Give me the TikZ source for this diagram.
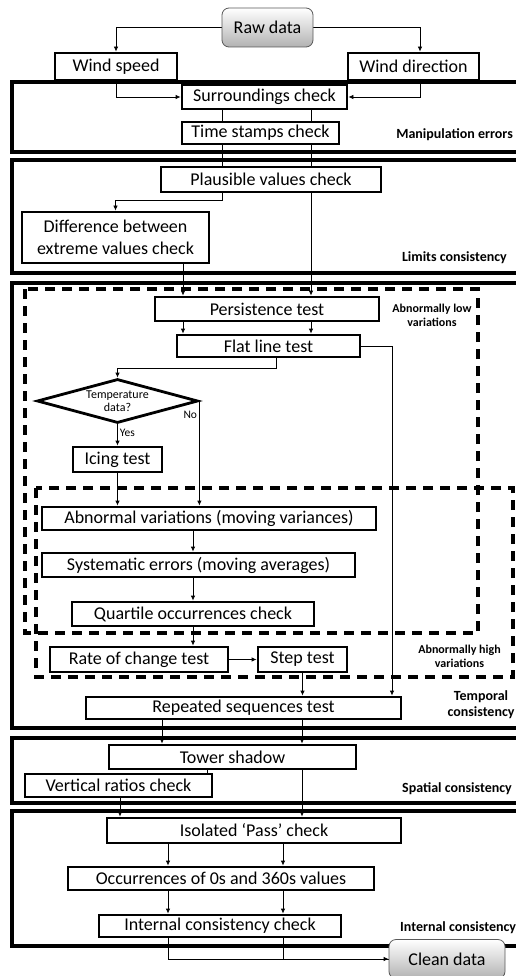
\documentclass[tikz,border=0pt]{standalone}
\usepackage{fontspec}
\setmainfont{Carlito}
\usetikzlibrary{shapes.geometric,arrows.meta}
\pgfdeclarelayer{grouplayer}
\pgfdeclarelayer{edgelayer}
\pgfdeclarelayer{nodelayer}
\pgfsetlayers{grouplayer,edgelayer,nodelayer,main}
\tikzstyle{stepbox}=[rectangle, draw=black, line width=2.8pt, fill=white, inner sep=0pt, font=\fontsize{18}{22}\selectfont, align=center]
\tikzstyle{terminal}=[rectangle, rounded corners=7pt, draw=black!65, line width=0.8pt, top color=white, bottom color=black!30, inner sep=0pt, font=\fontsize{18}{22}\selectfont]
\tikzstyle{decision}=[diamond, aspect=3.66, draw=black, line width=2.8pt, fill=white, inner sep=0pt, font=\fontsize{12}{13}\selectfont, align=center]
\tikzstyle{choice}=[font=\fontsize{11.5}{13}\selectfont, inner sep=2pt]
\tikzstyle{groupbox}=[draw=black, line width=4pt]
\tikzstyle{regionbox}=[draw=black, line width=3.5pt, dash pattern=on 10pt off 7pt]
\tikzstyle{grouplabel}=[font=\bfseries\fontsize{14}{16}\selectfont, align=center, inner sep=0pt]
\tikzstyle{regionlabel}=[font=\bfseries\fontsize{12}{14}\selectfont, align=center, inner sep=0pt]
\tikzstyle{edge}=[draw=black, line width=0.8pt, -{Latex[length=5pt,width=4.5pt]}]
\tikzstyle{link}=[draw=black, line width=0.8pt]

\begin{document}
\begin{tikzpicture}[x=1pt, y=-1pt]
	\useasboundingbox (0,0) rectangle (516,976);

	% lanes of the vertical connectors
	\coordinate (laneA) at (222,0);
	\coordinate (laneB) at (311,0);
	\coordinate (laneC) at (183,0);
	\coordinate (laneD) at (392,0);
	\coordinate (laneE) at (276,0);
	\coordinate (laneF) at (162,0);
	\coordinate (laneG) at (302,0);
	\coordinate (laneH) at (207,0);
	\coordinate (laneI) at (120,0);
	\coordinate (laneJ) at (168,0);
	\coordinate (laneK) at (283,0);

	\begin{pgfonlayer}{grouplayer}

	%groups
		\draw [style=groupbox] (12,82) rectangle (524,152);
		\draw [style=groupbox] (12,160) rectangle (524,273);
		\draw [style=groupbox] (12,283) rectangle (524,728);
		\draw [style=groupbox] (12,738) rectangle (524,803);
		\draw [style=groupbox] (12,811) rectangle (524,946);
		\draw [style=regionbox] (25,289) rectangle (478,633);
		\draw [style=regionbox] (36,488) rectangle (513,677);

	\end{pgfonlayer}
	\begin{pgfonlayer}{nodelayer}

	%inputs
		\node [style=terminal, minimum width=91pt, minimum height=39pt] (raw) at (267.5,27.5) {Raw data};
		\node [style=stepbox, minimum width=122pt, minimum height=27pt] (speed) at (116,66.5) {Wind speed};
		\node [style=stepbox, minimum width=131pt, minimum height=27pt] (direction) at (413.5,66.5) {Wind direction};

	%manipulation errors
		\node [style=stepbox, minimum width=165pt, minimum height=24pt] (surround) at (264.5,97) {Surroundings check};
		\node [style=stepbox, minimum width=157pt, minimum height=22pt] (stamps) at (260.5,133) {Time stamps check};

	%limits consistency
		\node [style=stepbox, minimum width=220pt, minimum height=25pt] (plausible) at (271,179.5) {Plausible values check};
		\node [style=stepbox, minimum width=187pt, minimum height=51pt] (diff) at (115.5,237.5) {Difference between\\extreme values check};

	%temporal consistency
		\node [style=stepbox, minimum width=224pt, minimum height=24pt] (persist) at (267,309) {Persistence test};
		\node [style=stepbox, minimum width=183pt, minimum height=22pt] (flat) at (268.5,346) {Flat line test};
		\node [style=decision, minimum width=161pt, minimum height=44pt] (temp) at (117.5,401) {Temperature\\data?};
		\node [style=stepbox, minimum width=89pt, minimum height=25pt] (icing) at (117.5,459.5) {Icing test};
		\node [style=stepbox, minimum width=334pt, minimum height=23pt] (abnormal) at (209,518.5) {Abnormal variations (moving variances)};
		\node [style=stepbox, minimum width=313pt, minimum height=24pt] (system) at (198.5,565) {Systematic errors (moving averages)};
		\node [style=stepbox, minimum width=242pt, minimum height=24pt] (quartile) at (193,614) {Quartile occurrences check};
		\node [style=stepbox, minimum width=178pt, minimum height=25pt] (rate) at (139,659.5) {Rate of change test};
		\node [style=stepbox, minimum width=89pt, minimum height=25pt] (steptest) at (302.5,659.5) {Step test};
		\node [style=stepbox, minimum width=315pt, minimum height=22pt] (repeated) at (243.5,708) {Repeated sequences test};

	%spatial consistency
		\node [style=stepbox, minimum width=247pt, minimum height=24pt] (tower) at (232.5,757) {Tower shadow};
		\node [style=stepbox, minimum width=187pt, minimum height=23pt] (vertical) at (118.5,785.5) {Vertical ratios check};

	%internal consistency
		\node [style=stepbox, minimum width=294pt, minimum height=25pt] (isolated) at (254,830.5) {Isolated ‘Pass’ check};
		\node [style=stepbox, minimum width=306pt, minimum height=23pt] (occur) at (221,878.5) {Occurrences of 0s and 360s values};
		\node [style=stepbox, minimum width=242pt, minimum height=22pt] (internal) at (220,926) {Internal consistency check};
		\node [style=terminal, minimum width=116pt, minimum height=39pt] (clean) at (447,959) {Clean data};

	%group labels
		\node [style=grouplabel, anchor=east] (manipLabel) at (513,135) {Manipulation errors};
		\node [style=grouplabel, anchor=east] (limitsLabel) at (507,258) {Limits consistency};
		\node [style=regionlabel] (lowLabel) at (432,315) {Abnormally low\\variations};
		\node [style=regionlabel] (highLabel) at (459.5,656) {Abnormally high\\variations};
		\node [style=grouplabel] (temporalLabel) at (481,705) {Temporal\\consistency};
		\node [style=grouplabel, anchor=east] (spatialLabel) at (512,789) {Spatial consistency};
		\node [style=grouplabel, anchor=west] (internalLabel) at (400,928) {Internal consistency};

	\end{pgfonlayer}
	\begin{pgfonlayer}{edgelayer}

		%inputs
		\draw [style=edge] (raw.west) -| (speed.north);
		\draw [style=edge] (raw.east) -| ([xshift=6.5pt]direction.north);
		\draw [style=edge] (speed.south) |- (surround.west);
		\draw [style=edge] ([xshift=6.5pt]direction.south) |- (surround.east);

		%manipulation errors
		\draw [style=link] (surround.south -| laneA) -- (stamps.north -| laneA);
		\draw [style=link] (surround.south -| laneB) -- (stamps.north -| laneB);
		\draw [style=link] (stamps.south -| laneA) -- (plausible.north -| laneA);
		\draw [style=link] (stamps.south -| laneB) -- (plausible.north -| laneB);

		%limits consistency
		\draw [style=edge] (plausible.south -| laneA) -- ++(0,7) -| (diff.north);
		\draw [style=edge] (plausible.south -| laneB) -- (persist.north -| laneB);
		\draw [style=edge] (diff.south -| laneC) -- (persist.north -| laneC);

		%temporal consistency
		\draw [style=edge] (persist.south -| laneC) -- (flat.north -| laneC);
		\draw [style=edge] (persist.south -| laneB) -- (flat.north -| laneB);
		\draw [style=edge] (flat.east) -| (repeated.north -| laneD);
		\draw [style=edge] (flat.south -| laneE) -- ++(0,10) -| (temp.north);
		\draw [style=edge] (temp.south) -- node [style=choice, right, pos=0.4] {Yes} (icing.north);
		\draw [style=edge] (temp.east) -- node [style=choice, left, pos=0.13] {No} (temp.east |- abnormal.north);
		\draw [style=edge] (icing.south) -- (icing.south |- abnormal.north);
		\draw [style=edge] (abnormal.south -| quartile.south) -- (system.north -| quartile.south);
		\draw [style=edge] (system.south -| quartile.south) -- (quartile.north);
		\draw [style=edge] (quartile.south) -- (rate.north -| quartile.south);
		\draw [style=edge] (rate.east) -- (steptest.west);
		\draw [style=edge] (steptest.south) -- (repeated.north -| steptest.south);

		%spatial consistency
		\draw [style=edge] (repeated.south -| laneF) -- (tower.north -| laneF);
		\draw [style=edge] (repeated.south -| laneG) -- (tower.north -| laneG);
		\draw [style=link] (tower.south -| laneH) -- (vertical.north -| laneH);
		\draw [style=edge] (tower.south -| laneG) -- (isolated.north -| laneG);
		\draw [style=edge] (vertical.south -| laneI) -- (isolated.north -| laneI);

		%internal consistency
		\draw [style=edge] (isolated.south -| laneJ) -- (occur.north -| laneJ);
		\draw [style=edge] (isolated.south -| laneK) -- (occur.north -| laneK);
		\draw [style=edge] (occur.south -| laneJ) -- (internal.north -| laneJ);
		\draw [style=edge] (occur.south -| laneK) -- (internal.north -| laneK);
		\draw [style=edge] (internal.south -| laneJ) |- (clean.west);
		\draw [style=link] (internal.south -| laneK) |- (clean.west);

	\end{pgfonlayer}
\end{tikzpicture}
\end{document}
